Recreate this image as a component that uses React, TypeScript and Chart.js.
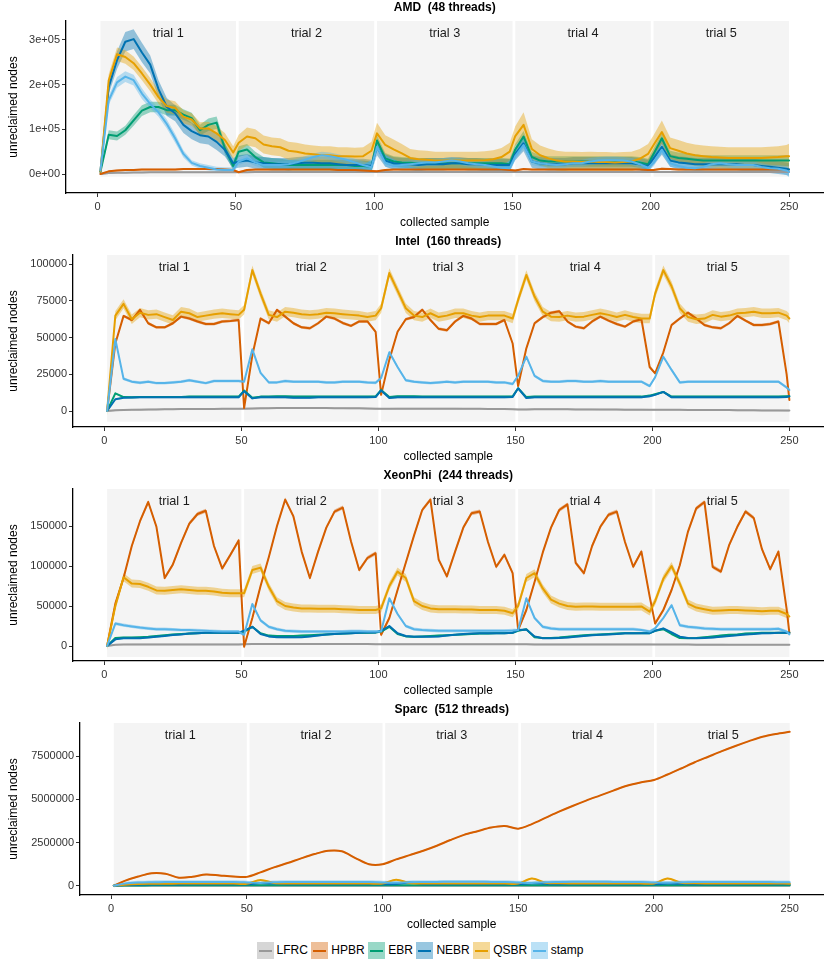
import React, { useEffect, useRef } from "react";
import { Chart, registerables } from "chart.js";

Chart.register(...registerables);

const FONT = "'Liberation Sans', Arial, Helvetica, sans-serif";
Chart.defaults.font.family = FONT;

const SERIES_NAMES = ["LFRC", "HPBR", "EBR", "NEBR", "QSBR", "stamp"];
const SERIES_COLORS = ["#999999", "#D55E00", "#009E73", "#0072B2", "#E69F00", "#56B4E9"];
const TRIAL_LABELS = ["trial 1", "trial 2", "trial 3", "trial 4", "trial 5"];
const TRIAL_FIRST = [1, 51, 101, 151, 201];
const TRIAL_LAST = [50, 100, 150, 200, 250];
const X_TICKS = [0, 50, 100, 150, 200, 250];
const X_TITLE = "collected sample";
const Y_TITLE = "unreclaimed nodes";
const UNIT = 1000; // all series values below are in thousands of nodes

const SAMPLES = [
  1, 4, 7, 10, 13, 16, 19, 22, 25, 28, 31, 34, 37, 40, 43, 46, 49,
  51, 54, 57, 60, 63, 66, 69, 72, 75, 78, 81, 84, 87, 90, 93, 96, 99,
  101, 104, 107, 110, 113, 116, 119, 122, 125, 128, 131, 134, 137, 140, 143, 146, 149,
  151, 154, 157, 160, 163, 166, 169, 172, 175, 178, 181, 184, 187, 190, 193, 196, 199,
  201, 204, 207, 210, 213, 216, 219, 222, 225, 228, 231, 234, 237, 240, 243, 246, 249, 250,
];
const SPARC_SAMPLES = [
  1, 5, 10, 15, 20, 25, 30, 35, 40, 45, 50,
  55, 60, 65, 70, 75, 80, 85, 90, 95, 100,
  105, 110, 115, 120, 125, 130, 135, 140, 145, 150,
  155, 160, 165, 170, 175, 180, 185, 190, 195, 200,
  205, 210, 215, 220, 225, 230, 235, 240, 245, 250,
];

// ---------------- AMD (48 threads) ----------------
const AMD_LFRC = [
  0, 2, 3, 3, 3.5, 3.5, 4, 4, 4, 4, 4, 4, 4, 4, 4, 4, 4,
  4, 4, 4.5, 4.5, 4.5, 4.5, 4.5, 4.5, 4.5, 4.5, 4.5, 4.5, 4.5, 4.5, 4.5, 4.5, 4.5,
  4.5, 4.5, 4.5, 4.5, 4.5, 4.5, 4.5, 4.5, 4.5, 4.5, 4.5, 4.5, 4.5, 4.5, 4.5, 4.5, 4.5,
  4.5, 4.5, 4.5, 4.5, 4.5, 4.5, 4.5, 4.5, 4.5, 4.5, 4.5, 4.5, 4.5, 4.5, 4.5, 4.5, 4.5,
  4.5, 4.5, 4.5, 4.5, 4.5, 4.5, 4.5, 4.5, 4.5, 4.5, 4.5, 4.5, 4.5, 4.5, 4.5, 4.5, 4.5, 4.5,
];
const AMD_HPBR = [
  0, 6, 8, 9, 9, 10, 10, 10, 10, 10, 11, 11, 11, 11, 11, 10, 9,
  4, 9, 10, 10, 10, 10, 10, 10, 10, 10, 10, 10, 9, 9, 9, 8, 7,
  6, 9, 10, 10, 10, 10, 10, 10, 10, 10, 10, 10, 10, 10, 10, 10, 9,
  8, 11, 10, 10, 10, 10, 10, 10, 10, 10, 10, 10, 10, 10, 10, 10, 9,
  9, 12, 11, 10, 10, 10, 10, 10, 10, 10, 10, 10, 10, 10, 10, 10, 10, 10,
];
const AMD_EBR = [
  5, 88, 85, 98, 120, 142, 150, 150, 143, 143, 133, 125, 98, 110, 115, 57, 18,
  50, 55, 38, 26, 24, 22, 20, 20, 20, 20, 20, 20, 20, 20, 18, 18, 16,
  75, 35, 28, 26, 25, 24, 24, 24, 24, 24, 24, 24, 24, 24, 24, 24, 22,
  55, 84, 38, 30, 28, 28, 28, 28, 28, 28, 28, 28, 28, 28, 28, 26, 22,
  45, 80, 40, 36, 34, 32, 30, 30, 30, 30, 30, 30, 30, 30, 30, 30, 30, 30,
];
const AMD_NEBR = [
  5, 195, 255, 296, 302, 272, 245, 190, 150, 136, 110, 96, 87, 84, 72, 54, 24,
  28, 30, 26, 24, 22, 22, 22, 24, 25, 25, 24, 24, 22, 20, 20, 20, 18,
  60, 30, 24, 22, 22, 20, 22, 22, 22, 24, 24, 22, 22, 20, 20, 20, 20,
  45, 69, 28, 24, 22, 22, 22, 24, 24, 24, 24, 24, 24, 24, 24, 22, 18,
  35, 61, 30, 26, 24, 22, 22, 22, 22, 22, 22, 20, 20, 18, 16, 14, 12, 10,
];
const AMD_QSBR = [
  5, 210, 268, 262, 248, 225, 200, 172, 152, 148, 128, 122, 102, 102, 91, 76, 48,
  70, 84, 80, 66, 62, 60, 52, 50, 46, 44, 42, 42, 40, 40, 39, 40, 52,
  91, 65, 55, 46, 36, 33, 32, 30, 30, 30, 30, 30, 30, 31, 33, 38, 50,
  85, 110, 56, 42, 35, 30, 28, 28, 27, 28, 27, 27, 26, 27, 28, 34, 45,
  65, 94, 58, 52, 46, 42, 40, 38, 37, 36, 36, 36, 36, 36, 37, 38, 40, 40,
];
const AMD_STAMP = [
  8, 165, 205, 218, 210, 180, 157, 138, 112, 80, 45, 25, 18, 14, 10, 9, 9,
  28, 35, 26, 20, 20, 20, 22, 26, 32, 38, 42, 40, 36, 32, 26, 20, 15,
  61, 25, 18, 20, 22, 24, 26, 26, 28, 30, 28, 24, 22, 20, 17, 14, 13,
  40, 65, 28, 24, 22, 20, 22, 24, 24, 28, 30, 31, 31, 30, 28, 22, 14,
  25, 54, 24, 18, 14, 13, 16, 22, 24, 22, 20, 20, 20, 16, 13, 12, 8, 5,
];
// half-widths of the confidence ribbons (thousands)
const AMD_EBR_SPREAD = [
  2, 10, 10, 10, 12, 12, 12, 12, 12, 12, 12, 12, 12, 14, 14, 12, 10,
  12, 12, 12, 12, 12, 12, 12, 12, 12, 12, 12, 12, 12, 12, 12, 12, 12,
  12, 12, 12, 12, 12, 12, 12, 12, 12, 12, 12, 12, 12, 12, 12, 12, 12,
  12, 12, 12, 12, 12, 12, 12, 12, 12, 12, 12, 12, 12, 12, 12, 12, 12,
  12, 12, 12, 12, 12, 12, 12, 12, 12, 12, 12, 12, 12, 12, 12, 12, 12, 12,
];
const AMD_NEBR_SPREAD = [
  2, 16, 20, 22, 22, 22, 20, 20, 20, 18, 18, 18, 18, 18, 18, 15, 12,
  14, 14, 14, 14, 14, 14, 14, 14, 14, 14, 14, 14, 14, 14, 14, 14, 14,
  18, 14, 14, 14, 14, 14, 14, 14, 14, 14, 14, 14, 14, 14, 14, 14, 14,
  14, 18, 14, 14, 14, 14, 14, 14, 14, 14, 14, 14, 14, 14, 14, 14, 14,
  14, 18, 14, 14, 14, 14, 14, 14, 14, 14, 14, 14, 14, 14, 14, 14, 14, 14,
];
const AMD_QSBR_SPREAD = [
  2, 14, 15, 15, 15, 15, 15, 15, 15, 15, 15, 14, 14, 15, 16, 16, 14,
  18, 20, 20, 20, 20, 20, 20, 20, 20, 20, 20, 20, 20, 20, 20, 20, 20,
  24, 22, 22, 21, 20, 20, 20, 20, 20, 20, 20, 20, 20, 20, 20, 20, 20,
  22, 28, 22, 22, 22, 22, 22, 22, 22, 22, 22, 22, 22, 22, 22, 22, 22,
  22, 26, 24, 24, 24, 24, 24, 24, 24, 24, 24, 24, 24, 24, 24, 24, 25, 28,
];
const AMD_STAMP_SPREAD = [
  2, 10, 12, 12, 12, 12, 10, 10, 10, 10, 8, 6, 6, 6, 6, 6, 6,
  8, 8, 8, 8, 8, 8, 8, 8, 8, 8, 8, 8, 8, 8, 8, 8, 8,
  8, 8, 8, 8, 8, 8, 8, 8, 8, 8, 8, 8, 8, 8, 8, 8, 8,
  8, 8, 8, 8, 8, 8, 8, 8, 8, 8, 8, 8, 8, 8, 8, 8, 8,
  8, 8, 8, 8, 8, 8, 8, 8, 8, 8, 8, 8, 8, 8, 8, 8, 10, 12,
];
const AMD_SPREAD: (number | number[])[] = [2, 2, AMD_EBR_SPREAD, AMD_NEBR_SPREAD, AMD_QSBR_SPREAD, AMD_STAMP_SPREAD];
const AMD_Y_TICKS = [0, 100000, 200000, 300000];
const AMD_Y_LABELS = ["0e+00", "1e+05", "2e+05", "3e+05"];

// ---------------- Intel (160 threads) ----------------
const INTEL_LFRC = [
  0, 0.5, 0.7, 0.8, 0.9, 1.0, 1.1, 1.2, 1.2, 1.3, 1.3, 1.4, 1.4, 1.4, 1.5, 1.5, 1.5,
  1.6, 1.7, 1.8, 1.9, 2.0, 2.1, 2.1, 2.1, 2.0, 2.0, 2.0, 1.9, 1.9, 1.8, 1.8, 1.7, 1.6,
  1.5, 1.5, 1.6, 1.6, 1.6, 1.6, 1.6, 1.6, 1.6, 1.6, 1.5, 1.5, 1.5, 1.4, 1.4, 1.3, 1.2,
  1.1, 1.1, 1.2, 1.2, 1.2, 1.2, 1.2, 1.1, 1.1, 1.1, 1.0, 1.0, 1.0, 0.9, 0.9, 0.9, 0.8,
  0.8, 0.8, 0.8, 0.8, 0.7, 0.7, 0.7, 0.6, 0.6, 0.6, 0.5, 0.5, 0.5, 0.4, 0.4, 0.4, 0.3, 0.3,
];
const INTEL_HPBR = [
  0, 46, 64.8, 62, 68.9, 59.8, 57, 57, 59.8, 64.3, 63, 61, 59.3, 59.3, 61, 61.4, 62,
  2, 38, 63, 59.8, 68.9, 64.3, 59.8, 57, 56.4, 59.8, 64.3, 63, 60, 58, 61, 61, 54,
  11, 35, 54, 62.5, 64, 69, 62, 56, 55, 61, 64.8, 63, 59.3, 59.3, 59.3, 62, 46,
  17, 42.7, 59.8, 64, 67, 68, 61, 57.5, 56.4, 61, 64.3, 61.6, 59.3, 57.5, 61, 62.5, 30,
  25.7, 40, 58.6, 63, 67, 63, 58.6, 57, 56.4, 59.8, 64.8, 61.6, 58.6, 58.6, 59.3, 61, 25, 7.5,
];
const INTEL_EBR = [
  0, 12, 9.5, 9.3, 9.5, 9.5, 9.5, 9.5, 9.5, 9.5, 9.8, 9.8, 9.8, 9.8, 9.8, 9.8, 9.8,
  13.9, 9, 9.8, 9.8, 10, 10, 9.8, 9.8, 9.8, 9.8, 9.8, 9.8, 9.8, 9.8, 9.8, 9.8, 10,
  14.3, 9.5, 10, 10, 10, 9.8, 9.8, 9.8, 9.8, 9.8, 9.8, 9.8, 9.8, 9.8, 9.8, 9.8, 10,
  15.5, 9.5, 9.8, 9.8, 9.8, 9.8, 9.8, 9.8, 9.8, 9.8, 9.8, 9.8, 9.8, 9.8, 9.8, 9.8, 10.5,
  11.5, 13, 9.8, 9.8, 9.8, 9.8, 9.8, 9.8, 9.8, 9.8, 9.8, 9.8, 9.8, 9.8, 9.8, 9.8, 10, 10,
];
const INTEL_NEBR = [
  0, 8, 9, 9.2, 9.3, 9.3, 9.3, 9.3, 9.3, 9.3, 9.3, 9.3, 9.3, 9.3, 9.3, 9.3, 9.3,
  13.5, 8.6, 9.3, 9.3, 9.3, 9.3, 9, 9, 9, 9.3, 9.3, 9.3, 9.3, 9.3, 9.3, 9.3, 9.5,
  14, 8.8, 9.3, 9.3, 9.3, 9.3, 9.3, 9.3, 9.3, 9.3, 9.3, 9.3, 9.3, 9.3, 9.3, 9.3, 9.5,
  15.5, 8.8, 9.3, 9.3, 9.3, 9.3, 9.3, 9.3, 9.3, 9.3, 9.3, 9.3, 9.3, 9.3, 9.3, 9.3, 10,
  11, 13, 9.3, 9.3, 9.3, 9.3, 9.3, 9.3, 9.3, 9.3, 9.3, 9.3, 9.3, 9.3, 9.3, 9.3, 9.5, 10,
];
const INTEL_QSBR = [
  0, 65, 73, 62.5, 67, 65.5, 66, 64, 62, 67.7, 66.6, 64, 65, 66, 66.6, 66, 65.5,
  69, 96, 80, 65.5, 64, 67.7, 67, 66, 65.5, 66, 67, 66.6, 66, 65.5, 65, 64, 65,
  70, 94, 82, 70, 65, 64, 66.6, 64, 65, 66.6, 66.6, 65, 64, 65, 65, 65, 63,
  75.7, 92.7, 78, 67.7, 64.3, 64, 65, 64, 64.3, 65.5, 66.6, 65.5, 64, 65.5, 64, 63, 63,
  80, 96, 85, 70, 64, 62.5, 63, 65.5, 64.3, 65, 66.6, 67, 67.7, 66.6, 66.6, 67, 65, 63,
];
const INTEL_STAMP = [
  0, 49, 22, 20, 19.3, 20, 19, 19, 19.5, 20, 21, 20, 19, 20.5, 20.5, 20.5, 20.5,
  20, 42, 26, 19.5, 19.5, 20.5, 20, 20, 20, 20, 19.5, 19.5, 20, 20, 20, 19.5, 19.3,
  22.5, 40, 30, 21, 20, 19.5, 19, 19.5, 20, 19.5, 20, 20, 20, 20, 19.5, 19.5, 18.4,
  24, 37, 24, 20.5, 20, 20, 20.5, 20.5, 20, 20, 20.5, 20, 20, 20, 20, 20, 17,
  23, 37, 28, 19.5, 20, 20, 20, 20, 20, 20, 20, 20, 20, 20, 20, 20, 16, 14.3,
];
const INTEL_SPREAD: (number | number[])[] = [0.6, 1, 0.6, 0.6, 3.2, 1];
const INTEL_Y_TICKS = [0, 25000, 50000, 75000, 100000];
const INTEL_Y_LABELS = ["0", "25000", "50000", "75000", "100000"];

// ---------------- XeonPhi (244 threads) ----------------
const XEON_LFRC = [
  0, 1.5, 1.8, 2, 2, 2, 2, 2, 2, 2, 2, 2, 2, 2, 2, 2, 2,
  2.2, 2.5, 2.5, 2.5, 2.5, 2.5, 2.5, 2.5, 2.5, 2.5, 2.5, 2.5, 2.5, 2.5, 2.5, 2.5, 2.3,
  2.2, 2.3, 2.3, 2.3, 2.3, 2.3, 2.3, 2.3, 2.3, 2.3, 2.3, 2.3, 2.3, 2.3, 2.3, 2.3, 2.2,
  2.1, 2.1, 2, 2, 2, 2, 2, 2, 2, 2, 2, 2, 2, 2, 2, 2, 2,
  1.9, 1.9, 1.8, 1.8, 1.8, 1.7, 1.7, 1.7, 1.7, 1.6, 1.6, 1.6, 1.6, 1.5, 1.5, 1.5, 1.5, 1.5,
];
const XEON_HPBR = [
  0, 53, 85, 125, 156, 180, 149, 85, 102, 129, 153, 165, 169, 125, 97, 114, 132,
  -1, 35, 75, 111, 150, 183, 162, 118, 85, 118, 148, 168, 173, 131, 95, 110, 116,
  14, 35, 70, 104, 138, 170, 183, 108, 87, 118, 148, 166, 168, 130, 99, 114, 91,
  20, 45, 80, 117, 148, 170, 177, 104, 91, 125, 149, 164, 168, 130, 99, 118, 62,
  28, 45, 70, 101, 143, 172, 180, 99, 93, 126, 149, 168, 160, 121, 96, 118, 46, 16,
];
const XEON_EBR = [
  0, 10, 10.5, 10.5, 11, 11.5, 12.5, 13.5, 14.5, 15, 15.5, 16, 16.5, 16.5, 16.5, 16.5, 16.5,
  18, 24, 16, 13, 12.5, 12.5, 12.5, 13, 13.5, 14, 14.5, 15, 15.5, 16, 16.5, 16.5, 17,
  18, 24, 15, 12, 11.5, 12, 12.5, 13, 13.5, 14, 14.5, 15, 15.5, 15.5, 16, 16, 16.5,
  19, 21, 11, 10, 10, 10.5, 11.5, 12.5, 13.5, 14, 14.5, 15, 15.5, 16, 16, 16, 16,
  19, 21, 15, 10, 9.6, 10, 11, 12, 13, 14, 14.5, 15.5, 16, 16.5, 16.5, 16.5, 16.5, 16.5,
];
const XEON_NEBR = [
  0, 8.3, 9.6, 9.6, 9.6, 10.5, 11.7, 12.5, 13.8, 14.5, 15.5, 16, 16.5, 16.7, 16.7, 16.7, 16.7,
  19, 24, 15, 12, 11, 10.8, 10.8, 11, 12, 13, 14.3, 15, 15.5, 16, 16.5, 17, 17,
  19, 25, 16, 12.5, 11.7, 11.7, 11.7, 12, 13, 14, 15, 15.5, 16, 16, 16, 16, 16.5,
  20, 20.5, 12, 9.6, 9.6, 10, 10.5, 11.5, 12.5, 13.5, 14, 14.5, 15, 15.8, 15.8, 16, 16,
  19, 22, 17, 11.7, 10, 9.6, 10, 10.5, 11.5, 12.5, 13.5, 14.5, 15, 15.8, 16, 16.5, 16.7, 16.7,
];
const XEON_QSBR = [
  0, 50, 86, 78, 77.5, 74, 69.5, 69, 70, 71, 70, 69, 69, 68, 66.5, 66, 66,
  66, 95, 98, 74, 56, 50, 48, 47, 47, 46.5, 46.5, 46.5, 46, 45.5, 45, 45, 45,
  47, 75, 93, 85, 56, 50, 47, 46, 46, 46, 45.5, 45.5, 45, 45, 45, 44, 41,
  50, 85, 91, 72, 58, 53, 50, 49, 49.5, 49.5, 49, 49, 49, 49, 49, 49.5, 43,
  56, 84, 100, 78, 53, 48, 46, 44, 44.5, 45, 45, 44.5, 44, 43.5, 44, 44, 40, 37,
];
const XEON_STAMP = [
  0, 28, 26, 24.5, 23, 22, 21, 21, 20.5, 20, 20, 19.5, 19, 18.5, 18, 18, 18,
  14, 52.5, 32, 24, 21, 19, 18.5, 18, 18, 18, 18, 18, 18, 18.5, 18.5, 18, 18,
  18, 59.6, 40, 25, 21, 20, 19.5, 19, 19, 19, 19, 19, 19, 19, 19, 19, 19.5,
  20, 59.6, 35, 24, 22, 21, 21, 21, 21, 21, 21, 21, 21, 21, 21, 20, 18,
  22, 35, 51, 26, 24, 23, 22, 21.5, 21, 21, 21, 21, 21, 21, 21, 21.5, 18, 14.6,
];
const XEON_SPREAD: (number | number[])[] = [1, 2.5, 1, 1, 5, 2];
const XEON_Y_TICKS = [0, 50000, 100000, 150000];
const XEON_Y_LABELS = ["0", "50000", "100000", "150000"];

// ---------------- Sparc (512 threads) ----------------
const SPARC_LFRC = [
  0, 2, 3, 3, 3, 3, 3, 3, 3, 3, 3,
  3, 3, 3, 3, 3, 3, 3, 3, 3, 3,
  3, 3, 3, 3, 3, 3, 3, 3, 3, 3,
  3, 3, 3, 3, 3, 3, 3, 3, 3, 3,
  3, 3, 3, 3, 3, 3, 3, 3, 3, 3,
];
const SPARC_HPBR = [
  0, 280, 530, 720, 690, 460, 520, 650, 590, 530, 510,
  770, 1060, 1310, 1580, 1830, 2020, 1990, 1600, 1240, 1240,
  1520, 1770, 2020, 2310, 2640, 2940, 3150, 3360, 3450, 3300,
  3560, 3920, 4280, 4610, 4920, 5210, 5500, 5780, 5970, 6110,
  6430, 6780, 7140, 7460, 7780, 8080, 8360, 8620, 8780, 8900,
];
const SPARC_EBR = [
  0, 10, 15, 20, 20, 20, 20, 20, 20, 20, 20,
  30, 25, 20, 20, 20, 20, 20, 20, 20, 20,
  30, 25, 20, 20, 20, 20, 20, 20, 20, 20,
  30, 25, 20, 20, 20, 20, 20, 20, 20, 20,
  30, 25, 20, 20, 20, 20, 20, 20, 20, 20,
];
const SPARC_NEBR = [
  0, 40, 60, 70, 75, 75, 80, 80, 80, 80, 80,
  150, 120, 90, 80, 80, 80, 80, 80, 80, 80,
  100, 180, 90, 80, 80, 80, 80, 80, 80, 80,
  140, 110, 85, 80, 80, 80, 80, 80, 80, 80,
  130, 110, 85, 80, 80, 80, 80, 80, 80, 80,
];
const SPARC_QSBR = [
  0, 60, 100, 110, 115, 120, 120, 120, 120, 120, 110,
  330, 160, 130, 125, 125, 125, 125, 125, 125, 120,
  340, 160, 130, 125, 125, 125, 125, 125, 125, 120,
  420, 170, 135, 130, 130, 130, 130, 130, 130, 125,
  420, 170, 135, 130, 130, 130, 130, 130, 125, 115,
];
const SPARC_STAMP = [
  0, 120, 180, 200, 210, 215, 220, 220, 220, 215, 190,
  160, 200, 215, 220, 220, 220, 220, 220, 215, 190,
  170, 205, 215, 220, 225, 225, 225, 220, 215, 185,
  160, 200, 215, 225, 225, 225, 220, 220, 215, 185,
  165, 200, 215, 220, 220, 220, 215, 210, 205, 195,
];
const SPARC_SPREAD: (number | number[])[] = [3, 40, 15, 40, 40, 100];
const SPARC_Y_TICKS = [0, 2500000, 5000000, 7500000];
const SPARC_Y_LABELS = ["0", "2500000", "5000000", "7500000"];

type PanelCfg = {
  title: string;
  x: number[];
  series: number[][];
  spread: (number | number[])[];
  yTicks: number[];
  yLabels: string[];
  yMin: number;
  yMax: number;
  bgBottom: number;
  axisWidth: number;
  tension: number;
};

const PANELS: PanelCfg[] = [
  {
    title: "AMD  (48 threads)", x: SAMPLES,
    series: [AMD_LFRC, AMD_HPBR, AMD_EBR, AMD_NEBR, AMD_QSBR, AMD_STAMP], spread: AMD_SPREAD,
    yTicks: AMD_Y_TICKS, yLabels: AMD_Y_LABELS, yMin: -42500, yMax: 342500, bgBottom: -6000, axisWidth: 66, tension: 0,
  },
  {
    title: "Intel  (160 threads)", x: SAMPLES,
    series: [INTEL_LFRC, INTEL_HPBR, INTEL_EBR, INTEL_NEBR, INTEL_QSBR, INTEL_STAMP], spread: INTEL_SPREAD,
    yTicks: INTEL_Y_TICKS, yLabels: INTEL_Y_LABELS, yMin: -10900, yMax: 106300, bgBottom: -7300, axisWidth: 73, tension: 0,
  },
  {
    title: "XeonPhi  (244 threads)", x: SAMPLES,
    series: [XEON_LFRC, XEON_HPBR, XEON_EBR, XEON_NEBR, XEON_QSBR, XEON_STAMP], spread: XEON_SPREAD,
    yTicks: XEON_Y_TICKS, yLabels: XEON_Y_LABELS, yMin: -18750, yMax: 196250, bgBottom: -13750, axisWidth: 73, tension: 0,
  },
  {
    title: "Sparc  (512 threads)", x: SPARC_SAMPLES,
    series: [SPARC_LFRC, SPARC_HPBR, SPARC_EBR, SPARC_NEBR, SPARC_QSBR, SPARC_STAMP], spread: SPARC_SPREAD,
    yTicks: SPARC_Y_TICKS, yLabels: SPARC_Y_LABELS, yMin: -538000, yMax: 9410000, bgBottom: -58000, axisWidth: 80, tension: 0.3,
  },
];

const PANEL_TOPS = [0, 234, 468, 702];
const CANVAS_W = 830;
const CANVAS_H = 234;

function rgba(hex: string, a: number) {
  const n = parseInt(hex.slice(1), 16);
  return `rgba(${(n >> 16) & 255},${(n >> 8) & 255},${n & 255},${a})`;
}

function spreadAt(s: number | number[], j: number) {
  return Array.isArray(s) ? s[j] : s;
}

function trialPlugin(cfg: PanelCfg) {
  return {
    id: "trialBackground",
    beforeDatasetsDraw(chart: any) {
      const { ctx, chartArea, scales } = chart;
      const xs = scales.x;
      const ys = scales.y;
      ctx.save();
      ctx.fillStyle = "#f4f4f4";
      const yTop = chartArea.top;
      const yBot = ys.getPixelForValue(cfg.bgBottom);
      for (let i = 0; i < TRIAL_FIRST.length; i++) {
        const x1 = xs.getPixelForValue(TRIAL_FIRST[i]);
        const x2 = xs.getPixelForValue(TRIAL_LAST[i]);
        ctx.fillRect(x1, yTop, x2 - x1, yBot - yTop);
      }
      ctx.fillStyle = "#1a1a1a";
      ctx.font = `12.7px ${FONT}`;
      ctx.textAlign = "center";
      ctx.textBaseline = "middle";
      for (let i = 0; i < TRIAL_LABELS.length; i++) {
        const xc = xs.getPixelForValue((TRIAL_FIRST[i] + TRIAL_LAST[i]) / 2);
        ctx.fillText(TRIAL_LABELS[i], xc, chartArea.top + 12);
      }
      ctx.restore();
    },
  };
}

function buildConfig(cfg: PanelCfg): any {
  const datasets: any[] = [];
  const n = cfg.series.length;
  cfg.series.forEach((vals, i) => {
    const sp = cfg.spread[i];
    const lowerIndex = datasets.length;
    datasets.push({
      data: cfg.x.map((x, j) => ({ x, y: (vals[j] - spreadAt(sp, j)) * UNIT })),
      borderWidth: 0, pointRadius: 0, fill: false, tension: cfg.tension,
      borderColor: "rgba(0,0,0,0)", order: 20 + (n - 1 - i),
    });
    datasets.push({
      data: cfg.x.map((x, j) => ({ x, y: (vals[j] + spreadAt(sp, j)) * UNIT })),
      borderWidth: 0, pointRadius: 0, tension: cfg.tension,
      borderColor: "rgba(0,0,0,0)", backgroundColor: rgba(SERIES_COLORS[i], 0.4),
      fill: lowerIndex, order: 20 + (n - 1 - i),
    });
  });
  cfg.series.forEach((vals, i) => {
    datasets.push({
      label: SERIES_NAMES[i],
      data: cfg.x.map((x, j) => ({ x, y: vals[j] * UNIT })),
      borderColor: SERIES_COLORS[i], borderWidth: 2, pointRadius: 0, fill: false,
      tension: cfg.tension, borderJoinStyle: "round", borderCapStyle: "round",
      order: n - 1 - i,
    });
  });

  const tickFont = { size: 11, family: FONT };
  const titleFont = { size: 12, family: FONT };

  return {
    type: "line",
    data: { datasets },
    options: {
      animation: false,
      responsive: false,
      maintainAspectRatio: false,
      events: [],
      layout: { padding: { left: 0, right: 6.5, top: 0, bottom: 0 } },
      plugins: {
        legend: { display: false },
        tooltip: { enabled: false },
        title: {
          display: true, text: cfg.title, fullSize: false, color: "#000",
          font: { size: 12, weight: "bold", family: FONT, lineHeight: 1.2 },
          padding: { top: 0, bottom: 6.6 },
        },
      },
      scales: {
        x: {
          type: "linear", min: -11.45, max: 262.45,
          afterBuildTicks: (s: any) => { s.ticks = X_TICKS.map((v) => ({ value: v })); },
          afterFit: (s: any) => { s.height = 41; },
          ticks: { color: "#333", font: tickFont, padding: 3, maxRotation: 0, autoSkip: false, callback: (v: any) => String(v) },
          grid: { display: true, drawOnChartArea: false, drawTicks: true, tickLength: 4, color: "#333", lineWidth: 1 },
          border: { display: true, color: "#000", width: 1.3 },
          title: { display: true, text: X_TITLE, color: "#000", font: titleFont, padding: { top: 0, bottom: 3.8 } },
        },
        y: {
          type: "linear", min: cfg.yMin, max: cfg.yMax,
          afterBuildTicks: (s: any) => { s.ticks = cfg.yTicks.map((v) => ({ value: v })); },
          afterFit: (s: any) => { s.width = cfg.axisWidth; },
          ticks: {
            color: "#333", font: tickFont, padding: 2, autoSkip: false,
            callback: (v: any) => { const k = cfg.yTicks.indexOf(v); return k >= 0 ? cfg.yLabels[k] : ""; },
          },
          grid: { display: true, drawOnChartArea: false, drawTicks: true, tickLength: 4, color: "#333", lineWidth: 1 },
          border: { display: true, color: "#000", width: 1.3 },
          title: { display: true, text: Y_TITLE, color: "#000", font: titleFont, padding: { top: 6, bottom: 0 } },
        },
      },
    },
    plugins: [trialPlugin(cfg)],
  };
}

function Panel({ cfg, top }: { cfg: PanelCfg; top: number }) {
  const ref = useRef<HTMLCanvasElement>(null);
  useEffect(() => {
    if (!ref.current) return;
    const chart = new Chart(ref.current, buildConfig(cfg));
    return () => chart.destroy();
  }, [cfg]);
  return (
    <canvas
      ref={ref}
      width={CANVAS_W}
      height={CANVAS_H}
      style={{ position: "absolute", left: 0, top, width: CANVAS_W, height: CANVAS_H }}
    />
  );
}

function Legend() {
  return (
    <div
      style={{
        position: "absolute", left: 256.5, top: 942, display: "flex", alignItems: "center",
        fontFamily: FONT, fontSize: 12, color: "#000", whiteSpace: "nowrap", lineHeight: "17px",
      }}
    >
      {SERIES_NAMES.map((name, i) => (
        <div key={name} style={{ display: "flex", alignItems: "center", marginRight: 3.5 }}>
          <div style={{ width: 17, height: 17, background: rgba(SERIES_COLORS[i], 0.4), position: "relative" }}>
            <div style={{ position: "absolute", left: 2, right: 2, top: 7.5, height: 2, background: SERIES_COLORS[i] }} />
          </div>
          <span style={{ marginLeft: 3 }}>{name}</span>
        </div>
      ))}
    </div>
  );
}

export default function App() {
  return (
    <div style={{ position: "absolute", left: 0, top: 0, width: 830, height: 968, background: "#fff", overflow: "hidden" }}>
      {PANELS.map((cfg, i) => (
        <Panel key={cfg.title} cfg={cfg} top={PANEL_TOPS[i]} />
      ))}
      <Legend />
    </div>
  );
}
